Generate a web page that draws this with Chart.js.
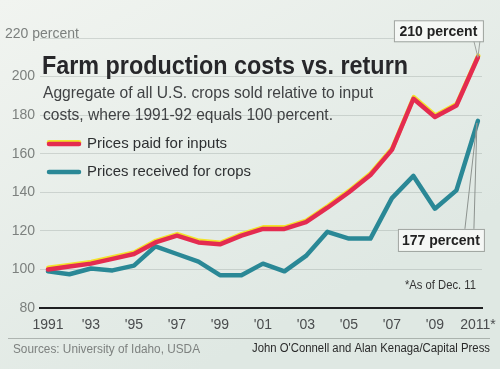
<!DOCTYPE html>
<html>
<head>
<meta charset="utf-8">
<script src="https://cdn.jsdelivr.net/npm/chart.js@4/dist/chart.umd.min.js"></script>
<style>
html,body{margin:0;padding:0;background:#e4ebe6;}
#wrap{width:500px;height:369px;position:relative;}
</style>
</head>
<body>
<div id="wrap"><canvas id="c" width="500" height="369"></canvas></div>
<script>
// ---- data ----
const years = [1991,1992,1993,1994,1995,1996,1997,1998,1999,2000,2001,2002,2003,2004,2005,2006,2007,2008,2009,2010,2011];
const pricesPaidInputs = [100,101.5,103,105.5,108,114,117.5,114,113,117.5,121,121,124.5,132,140,149,162,188.5,179,185,210];
const pricesReceivedCrops = [99,97.5,100.5,99.5,102,112,108,104,97,97,103,99,107,119.5,116,116,137,148.5,131.5,141,177];
const tickYears = [1991,1993,1995,1997,1999,2001,2003,2005,2007,2009,2011];
const tickLabels = ["1991","'93","'95","'97","'99","'01","'03","'05","'07","'09","2011*"];
const yTicks = [80,100,120,140,160,180,200,220];
const seriesNames = ["Prices paid for inputs","Prices received for crops"];
const titleText = "Farm production costs vs. return";
const subtitleLines = ["Aggregate of all U.S. crops sold relative to input","costs, where 1991-92 equals 100 percent."];
const calloutInputs = "210 percent";
const calloutCrops = "177 percent";
const noteText = "*As of Dec. 11";
const sourceText = "Sources: University of Idaho, USDA";
const creditText = "John O'Connell and Alan Kenaga/Capital Press";

const RED = '#e42b50', TEAL = '#2a8896', YEL = '#f3e32a';
const FONT = '"Liberation Sans", Arial, Helvetica, sans-serif';

const bgPlugin = {
  id:'bg',
  beforeDraw(chart){
    const {ctx,width,height} = chart;
    ctx.save();
    const g = ctx.createLinearGradient(0,0,width*0.4,height);
    g.addColorStop(0,'#f1f4f0');
    g.addColorStop(1,'#dfe8e3');
    ctx.fillStyle = g;
    ctx.fillRect(0,0,width,height);
    ctx.restore();
  }
};

const shadowPlugin = {
  id:'shadow',
  beforeDatasetDraw(chart,args){
    const ctx = chart.ctx;
    ctx.save();
    if(args.index===0){
      ctx.shadowColor = YEL; ctx.shadowOffsetY = -1.6; ctx.shadowOffsetX = 0.4; ctx.shadowBlur = 0;
    }
  },
  afterDatasetDraw(chart){ chart.ctx.restore(); }
};

const textPlugin = {
  id:'texts',
  beforeDatasetsDraw(chart){
    const ctx = chart.ctx;
    const y = chart.scales.y;
    ctx.save();
    // 220 percent label
    ctx.fillStyle = '#7c807e';
    ctx.font = '14px '+FONT;
    ctx.textBaseline = 'middle';
    ctx.textAlign = 'left';
    ctx.fillText(yTicks[yTicks.length-1]+' percent', 5, y.getPixelForValue(220)-4, 76);
    // title
    ctx.fillStyle = '#27272a';
    ctx.font = 'bold 26px '+FONT;
    ctx.textBaseline = 'alphabetic';
    ctx.fillText(titleText, 42, 74, 366);
    ctx.fillStyle = '#404244';
    ctx.font = '16.5px '+FONT;
    ctx.fillText(subtitleLines[0], 43, 98, 330);
    ctx.fillText(subtitleLines[1], 43, 120, 290);
    // legend
    const ds = chart.data.datasets;
    const ly = [144, 172];
    ds.forEach((d,i)=>{
      ctx.save();
      ctx.lineCap='round';
      ctx.lineWidth = 4.5;
      if(i===0){ ctx.shadowColor = YEL; ctx.shadowOffsetY=-1.8; }
      ctx.strokeStyle = d.borderColor;
      ctx.beginPath(); ctx.moveTo(49, ly[i]); ctx.lineTo(79, ly[i]); ctx.stroke();
      ctx.restore();
      ctx.fillStyle = '#2e3032';
      ctx.font = '15px '+FONT;
      ctx.textBaseline = 'middle';
      ctx.fillText(d.label, 87, ly[i], i===0?141:164);
    });
    // note
    ctx.fillStyle = '#333';
    ctx.font = '12.5px '+FONT;
    ctx.textBaseline='middle';
    ctx.fillText(noteText, 405, 286, 71);
    // footer
    ctx.strokeStyle = 'rgba(120,125,122,0.5)';
    ctx.lineWidth = 1;
    ctx.beginPath(); ctx.moveTo(8, 338.5); ctx.lineTo(490, 338.5); ctx.stroke();
    ctx.fillStyle = '#7d817f';
    ctx.font = '12.5px '+FONT;
    ctx.fillText(sourceText, 13, 350, 187);
    ctx.fillStyle = '#2a2a2a';
    ctx.font = '12.5px '+FONT;
    ctx.fillText(creditText, 252, 349, 238);
    ctx.restore();
  },
  afterDatasetsDraw(chart){
    const ctx = chart.ctx;
    const x = chart.scales.x, y = chart.scales.y;
    const n = years.length-1;
    const px = x.getPixelForValue(years[n]);
    const pyA = y.getPixelForValue(pricesPaidInputs[n]);
    const pyB = y.getPixelForValue(pricesReceivedCrops[n]);
    ctx.save();
    // callout 210
    let bx = px-84, bw = 89, by = pyA-37, bh = 21;
    ctx.strokeStyle = '#9ea39f'; ctx.lineWidth = 1;
    ctx.beginPath(); ctx.moveTo(px-4, by+bh); ctx.lineTo(px, pyA); ctx.lineTo(px+2, by+bh); ctx.stroke();
    ctx.fillStyle = 'rgba(246,248,245,0.95)';
    ctx.fillRect(bx, by, bw, bh);
    ctx.strokeRect(bx+0.5, by+0.5, bw, bh);
    ctx.fillStyle = '#222';
    ctx.font = 'bold 14px '+FONT;
    ctx.textAlign='center'; ctx.textBaseline='middle';
    ctx.fillText(calloutInputs, bx+bw/2, by+bh/2+1);
    // callout 177
    bx = px-80; bw = 86; by = pyB+108; bh = 22;
    ctx.strokeStyle = '#8d938f';
    ctx.beginPath(); ctx.moveTo(px-13, by); ctx.lineTo(px-1, pyB+2); ctx.lineTo(px-4, by); ctx.stroke();
    ctx.fillStyle = 'rgba(246,248,245,0.95)';
    ctx.fillRect(bx, by, bw, bh);
    ctx.strokeStyle = '#9ea39f';
    ctx.strokeRect(bx+0.5, by+0.5, bw, bh);
    ctx.fillStyle = '#222';
    ctx.fillText(calloutCrops, bx+bw/2, by+bh/2+1);
    ctx.restore();
  }
};

const mk = (arr)=> years.map((yr,i)=>({x:yr,y:arr[i]}));

new Chart(document.getElementById('c'), {
  type:'line',
  data:{
    datasets:[
      {label:seriesNames[0], data:mk(pricesPaidInputs), borderColor:RED, borderWidth:4.5, pointRadius:0, tension:0, borderJoinStyle:'round', borderCapStyle:'round'},
      {label:seriesNames[1], data:mk(pricesReceivedCrops), borderColor:TEAL, borderWidth:4.5, pointRadius:0, tension:0, borderJoinStyle:'round', borderCapStyle:'round'}
    ]
  },
  options:{
    responsive:false,
    animation:false,
    devicePixelRatio:1,
    layout:{padding:{left:0,right:18,top:38,bottom:0}},
    plugins:{legend:{display:false},tooltip:{enabled:false},title:{display:false}},
    scales:{
      x:{
        type:'linear', min:1990.63, max:2011.19,
        afterBuildTicks(s){ s.ticks = tickYears.map(v=>({value:v})); },
        afterFit(s){ s.height = 61; s.paddingLeft = 0; s.paddingRight = 0; },
        grid:{display:false, drawTicks:false},
        border:{display:true, color:'#1e1f21', width:2},
        ticks:{
          callback(v,i){ return tickLabels[i]; },
          color:'#4a4c4e', font:{family:FONT, size:14}, padding:9, maxRotation:0, autoSkip:false
        }
      },
      y:{
        min:80, max:220,
        afterBuildTicks(s){ s.ticks = yTicks.map(v=>({value:v})); },
        afterFit(s){ s.width = 40; },
        grid:{color:'rgba(130,140,135,0.28)', lineWidth:1, drawTicks:false},
        border:{display:false},
        ticks:{
          callback(v){ return v===220 ? '' : String(v); },
          color:'#7c807e', font:{family:FONT, size:14}, padding:5
        }
      }
    }
  },
  plugins:[bgPlugin, shadowPlugin, textPlugin]
});
</script>
</body>
</html>
